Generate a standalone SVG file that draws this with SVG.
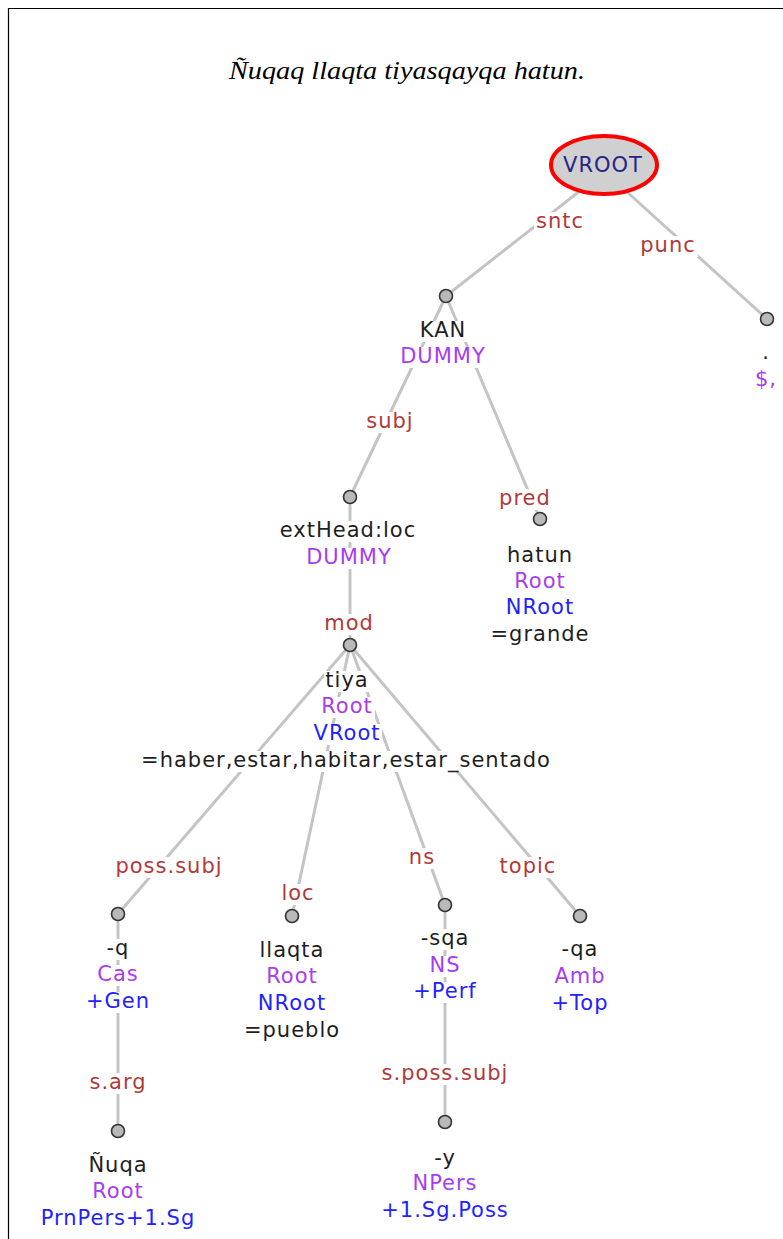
<svg xmlns="http://www.w3.org/2000/svg" width="783" height="1239" viewBox="0 0 783 1239">
<style>
.t{font-family:"DejaVu Sans","Liberation Sans",sans-serif;font-size:21px;letter-spacing:1px;text-anchor:middle}
.k{fill:#1e1e1e}.p{fill:#a83cf0}.b{fill:#2222ff}.r{fill:#b03a3a}
.bg{fill:#ffffff}
.e{stroke:#c4c4c4;stroke-width:3;fill:none}
.nd{fill:#b9b9b9;stroke:#333333;stroke-width:1.6}
</style>
<rect x="0" y="0" width="783" height="1239" fill="#ffffff"/>
<path d="M8.5,1239 V8.5 H783" fill="none" stroke="#000000" stroke-width="1.2"/>
<text x="407" y="79" font-family="'Liberation Serif',serif" font-style="italic" font-size="26" text-anchor="middle" textLength="356" lengthAdjust="spacingAndGlyphs" fill="#000000">Ñuqaq llaqta tiyasqayqa hatun.</text>

<g id="connectors">
  <line class="e" x1="604" y1="172" x2="446" y2="296"/>
  <line class="e" x1="604" y1="171" x2="767" y2="319"/>
  <line class="e" x1="446" y1="296" x2="350" y2="497"/>
  <line class="e" x1="446" y1="296" x2="540" y2="519"/>
  <line class="e" x1="350" y1="497" x2="350" y2="645"/>
  <line class="e" x1="350" y1="645" x2="118" y2="914"/>
  <line class="e" x1="350" y1="645" x2="292" y2="916"/>
  <line class="e" x1="350" y1="645" x2="445" y2="905"/>
  <line class="e" x1="350" y1="645" x2="580" y2="916"/>
  <line class="e" x1="118" y1="914" x2="118" y2="1131"/>
  <line class="e" x1="445" y1="905" x2="445" y2="1122"/>
  <g id="edge-labels">
    <rect class="bg" x="534" y="212" width="52" height="21"/><text class="t r" x="560" y="228">sntc</text>
    <rect class="bg" x="638" y="236" width="60" height="21"/><text class="t r" x="668" y="252">punc</text>
    <rect class="bg" x="364" y="412" width="51" height="21"/><text class="t r" x="390" y="428">subj</text>
    <rect class="bg" x="497" y="489" width="56" height="21"/><text class="t r" x="525" y="505">pred</text>
    <rect class="bg" x="322" y="614" width="54" height="21"/><text class="t r" x="349" y="630">mod</text>
    <rect class="bg" x="114" y="857" width="111" height="21"/><text class="t r" x="169" y="873">poss.subj</text>
    <rect class="bg" x="280" y="884" width="37" height="21"/><text class="t r" x="298" y="900">loc</text>
    <rect class="bg" x="407" y="848" width="30" height="21"/><text class="t r" x="422" y="864">ns</text>
    <rect class="bg" x="498" y="857" width="61" height="21"/><text class="t r" x="528" y="873">topic</text>
    <rect class="bg" x="88" y="1073" width="61" height="21"/><text class="t r" x="118" y="1089">s.arg</text>
    <rect class="bg" x="380" y="1064" width="131" height="21"/><text class="t r" x="445" y="1080">s.poss.subj</text>
  </g>
</g>

<g id="n-vroot">
  <ellipse cx="604" cy="165" rx="53" ry="29" fill="#d0d0d0" stroke="#ff0000" stroke-width="4"/>
  <text class="t" x="603" y="172" fill="#25258a">VROOT</text>
</g>

<g id="n-kan">
  <circle class="nd" cx="446" cy="296" r="6.5"/>
  <rect class="bg" x="418" y="321" width="51" height="21"/><text class="t k" x="443" y="337">KAN</text>
  <rect class="bg" x="398" y="347" width="90" height="21"/><text class="t p" x="443" y="363">DUMMY</text>
</g>

<g id="n-punct">
  <circle class="nd" cx="767" cy="319" r="6.5"/>
  <text class="t k" x="766" y="359">.</text>
  <text class="t p" x="766" y="386">$,</text>
</g>

<g id="n-exthead">
  <circle class="nd" cx="350" cy="497" r="6.5"/>
  <rect class="bg" x="278" y="521" width="141" height="21"/><text class="t k" x="348" y="537">extHead:loc</text>
  <rect class="bg" x="304" y="548" width="90" height="21"/><text class="t p" x="349" y="564">DUMMY</text>
</g>

<g id="n-hatun">
  <circle class="nd" cx="540" cy="519" r="6.5"/>
  <rect class="bg" x="505" y="546" width="70" height="21"/><text class="t k" x="540" y="562">hatun</text>
  <rect class="bg" x="512" y="572" width="56" height="21"/><text class="t p" x="540" y="588">Root</text>
  <rect class="bg" x="504" y="598" width="72" height="21"/><text class="t b" x="540" y="614">NRoot</text>
  <rect class="bg" x="489" y="625" width="102" height="21"/><text class="t k" x="540" y="641">=grande</text>
</g>

<g id="n-tiya">
  <circle class="nd" cx="350" cy="645" r="6.5"/>
  <rect class="bg" x="324" y="671" width="46" height="21"/><text class="t k" x="347" y="687">tiya</text>
  <rect class="bg" x="319" y="697" width="56" height="21"/><text class="t p" x="347" y="713">Root</text>
  <rect class="bg" x="312" y="724" width="70" height="21"/><text class="t b" x="347" y="740">VRoot</text>
  <rect class="bg" x="139" y="751" width="414" height="21"/><text class="t k" x="346" y="767">=haber,estar,habitar,estar_sentado</text>
</g>

<g id="n-q">
  <circle class="nd" cx="118" cy="914" r="6.5"/>
  <rect class="bg" x="104" y="939" width="28" height="21"/><text class="t k" x="118" y="955">-q</text>
  <rect class="bg" x="96" y="965" width="44" height="21"/><text class="t p" x="118" y="981">Cas</text>
  <rect class="bg" x="84" y="992" width="68" height="21"/><text class="t b" x="118" y="1008">+Gen</text>
</g>

<g id="n-llaqta">
  <circle class="nd" cx="292" cy="916" r="6.5"/>
  <rect class="bg" x="258" y="941" width="68" height="21"/><text class="t k" x="292" y="957">llaqta</text>
  <rect class="bg" x="264" y="967" width="56" height="21"/><text class="t p" x="292" y="983">Root</text>
  <rect class="bg" x="256" y="994" width="72" height="21"/><text class="t b" x="292" y="1010">NRoot</text>
  <rect class="bg" x="242" y="1021" width="100" height="21"/><text class="t k" x="292" y="1037">=pueblo</text>
</g>

<g id="n-sqa">
  <circle class="nd" cx="445" cy="905" r="6.5"/>
  <rect class="bg" x="419" y="929" width="52" height="21"/><text class="t k" x="445" y="945">-sqa</text>
  <rect class="bg" x="428" y="956" width="34" height="21"/><text class="t p" x="445" y="972">NS</text>
  <rect class="bg" x="412" y="982" width="66" height="21"/><text class="t b" x="445" y="998">+Perf</text>
</g>

<g id="n-qa">
  <circle class="nd" cx="580" cy="916" r="6.5"/>
  <rect class="bg" x="561" y="940" width="40" height="21"/><text class="t k" x="580" y="956">-qa</text>
  <rect class="bg" x="553" y="967" width="54" height="21"/><text class="t p" x="580" y="983">Amb</text>
  <rect class="bg" x="548" y="994" width="64" height="21"/><text class="t b" x="580" y="1010">+Top</text>
</g>

<g id="n-nuqa">
  <circle class="nd" cx="118" cy="1131" r="6.5"/>
  <rect class="bg" x="87" y="1156" width="62" height="21"/><text class="t k" x="118" y="1172">Ñuqa</text>
  <rect class="bg" x="90" y="1182" width="56" height="21"/><text class="t p" x="118" y="1198">Root</text>
  <rect class="bg" x="38" y="1209" width="160" height="21"/><text class="t b" x="118" y="1225">PrnPers+1.Sg</text>
</g>

<g id="n-y">
  <circle class="nd" cx="445" cy="1122" r="6.5"/>
  <rect class="bg" x="432" y="1149" width="26" height="21"/><text class="t k" x="445" y="1165">-y</text>
  <rect class="bg" x="411" y="1174" width="68" height="21"/><text class="t p" x="445" y="1190">NPers</text>
  <rect class="bg" x="380" y="1201" width="130" height="21"/><text class="t b" x="445" y="1217">+1.Sg.Poss</text>
</g>
</svg>
